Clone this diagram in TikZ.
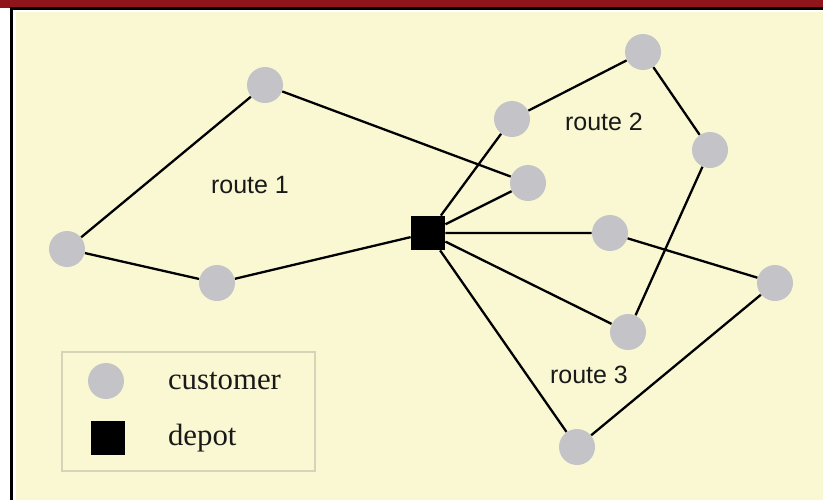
\documentclass[tikz,border=0pt]{standalone}
\usepackage{fontspec}
\setmainfont{Liberation Serif}
\newfontfamily\labelfont{Liberation Sans}
\definecolor{cream}{RGB}{249,248,211}
\definecolor{barred}{RGB}{143,20,27}
\definecolor{custgrey}{RGB}{196,196,200}
\definecolor{legendline}{RGB}{214,212,184}
\begin{document}
\begin{tikzpicture}[x=0.5pt,y=-0.5pt,
  customer/.style={circle,fill=custgrey,minimum size=18pt,inner sep=0pt},
  depotbox/.style={rectangle,fill=black,minimum size=17pt,inner sep=0pt},
  route/.style={line width=1.15pt,black},
  routelabel/.style={font=\labelfont\fontsize{12.5}{14}\selectfont,text=black!90},
  legendtext/.style={font=\fontsize{15.4}{18}\selectfont,text=black!90,anchor=west}]
  % page frame
  \useasboundingbox (0,0) rectangle (823,500);
  \fill[white] (0,0) rectangle (823,500);
  \fill[barred] (0,0) rectangle (823,7.5);
  \fill[black] (10,7) rectangle (823,9.5);
  \fill[black] (10,7) rectangle (12.5,500);
  \fill[cream] (16,12) rectangle (823,500);

  % depot and customers
  \node[depotbox] (dep) at (428,233) {};
  \node[customer] (a) at (265,85) {};
  \node[customer] (b) at (67,249) {};
  \node[customer] (c) at (217,283) {};
  \node[customer] (d) at (512,119) {};
  \node[customer] (e) at (643,52) {};
  \node[customer] (f) at (710,150) {};
  \node[customer] (g) at (528,183) {};
  \node[customer] (h) at (610,233) {};
  \node[customer] (i) at (775,283) {};
  \node[customer] (j) at (628,332) {};
  \node[customer] (k) at (577,447) {};

  % routes
  \draw[route] (dep) -- (c) -- (b) -- (a) -- (g) -- (dep);
  \draw[route] (dep) -- (d) -- (e) -- (f) -- (j) -- (dep);
  \draw[route] (dep) -- (h) -- (i) -- (k) -- (dep);

  \node[routelabel] (r1) at (250,185) {route 1};
  \node[routelabel] (r2) at (604,122) {route 2};
  \node[routelabel] (r3) at (589,375) {route 3};

  % legend
  \draw[legendline,line width=0.6pt] (62,352) rectangle (315,471);
  \node[customer] (lc) at (106,381) {};
  \node[depotbox] (ld) at (108,438) {};
  \node[legendtext] (lct) at (161,381) {customer};
  \node[legendtext] (ldt) at (161,438) {depot};
\end{tikzpicture}
\end{document}
